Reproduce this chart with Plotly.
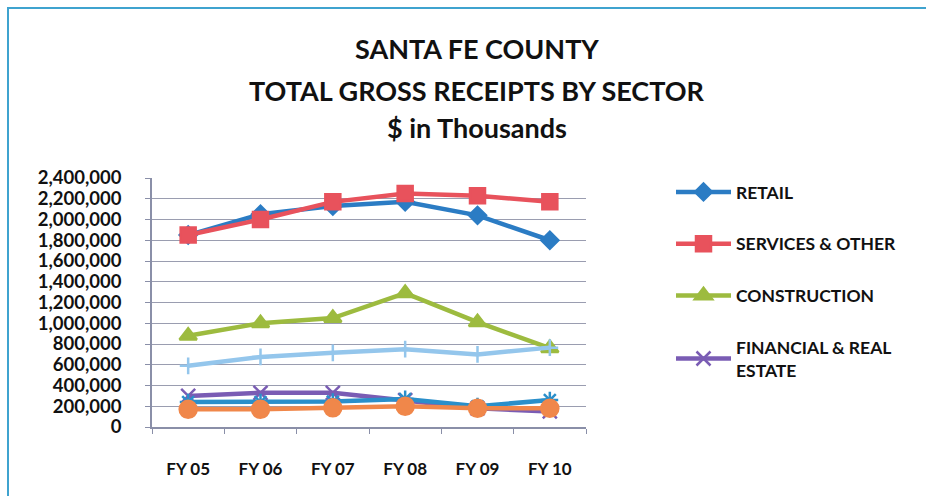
import plotly.graph_objects as go

categories = ["FY 05", "FY 06", "FY 07", "FY 08", "FY 09", "FY 10"]
retail = [1850000, 2050000, 2130000, 2170000, 2040000, 1800000]
services = [1850000, 2000000, 2170000, 2250000, 2230000, 2170000]
construction = [880000, 1000000, 1050000, 1290000, 1010000, 760000]
financial = [300000, 330000, 330000, 260000, 180000, 150000]
sector5 = [590000, 675000, 715000, 750000, 700000, 765000]
sector6 = [240000, 240000, 245000, 270000, 200000, 260000]
sector7 = [170000, 170000, 185000, 200000, 180000, 180000]
y_ticks = list(range(0, 2400001, 200000))
title_lines = ["SANTA FE COUNTY", "TOTAL GROSS RECEIPTS BY SECTOR", "$ in Thousands"]

series = [
    ("RETAIL", retail, "#2b7cc4", "diamond", 13, True),
    ("SERVICES & OTHER", services, "#e8525c", "square", 15, True),
    ("CONSTRUCTION", construction, "#9dbb3f", "triangle-up", 15, True),
    ("FINANCIAL & REAL<br>ESTATE", financial, "#7a5cb4", "x-thin-open", 14, True),
    ("OTHER SECTOR A", sector5, "#94c6ec", "cross-thin-open", 12, False),
    ("OTHER SECTOR B", sector6, "#2a8fca", "asterisk-open", 14, False),
    ("OTHER SECTOR C", sector7, "#f0874a", "circle", 17, False),
]

fig = go.Figure()
for i, (name, vals, color, sym, size, show) in enumerate(series):
    fig.add_trace(go.Scatter(
        x=categories, y=vals, name=name, mode="lines+markers",
        line=dict(color=color, width=4.5),
        marker=dict(symbol=sym, size=size, color=color,
                    line=dict(color=color, width=2.5)),
        showlegend=show, legendgroup=f"g{i}",
    ))

font_fam = "Lato, 'Open Sans', sans-serif"
L, T, B, W, H = 152, 178, 427, 926, 496
pw, ph = 586 - L, B - T

annotations = []
for txt, yc in zip(title_lines, [48, 90, 128]):
    annotations.append(dict(
        text=txt, xref="paper", yref="paper", x=(477 - L) / pw, y=(B - yc) / ph,
        xanchor="center", yanchor="middle", showarrow=False,
        font=dict(family=font_fam, size=27, color="#111", weight="bold"),
    ))

fig.update_layout(
    width=W, height=H,
    margin=dict(l=L, r=W - 586, t=T, b=H - B, autoexpand=False),
    paper_bgcolor="white", plot_bgcolor="white",
    annotations=annotations,
    showlegend=True,
    legend=dict(
        x=(671 - L) / pw, xanchor="left", y=(B - 174) / ph, yanchor="top",
        font=dict(family=font_fam, size=17.5, color="#111", weight="bold"),
        itemwidth=55, tracegroupgap=26, traceorder="grouped",
        bgcolor="rgba(0,0,0,0)",
    ),
    xaxis=dict(
        type="category", showgrid=False, showline=True, linecolor="#8a8fa8", linewidth=1.5,
        ticks="outside", tickson="boundaries", ticklen=5, tickcolor="#8a8fa8",
        tickfont=dict(family=font_fam, size=17, color="#111", weight="bold"),
        ticklabelstandoff=26, range=[-0.5, 5.5],
    ),
    yaxis=dict(
        range=[0, 2400000], tickvals=y_ticks, tickformat=",d",
        showgrid=True, gridcolor="#9a9db0", gridwidth=1,
        showline=True, linecolor="#8a8fa8", linewidth=1.5,
        ticks="outside", ticklen=5, tickcolor="#8a8fa8",
        tickfont=dict(family=font_fam, size=18.5, color="#111", weight="bold"),
        ticklabelstandoff=20, zeroline=False,
    ),
    shapes=[dict(type="rect", xref="paper", yref="paper",
                 x0=(8 - L) / pw, x1=2.0, y0=-0.5, y1=(B - 8) / ph,
                 line=dict(color="#3fa3cf", width=2), fillcolor="rgba(0,0,0,0)", layer="below")],
)

fig.write_html("out.html", config={"displayModeBar": False},
               post_script="document.body.style.margin='0px';")
